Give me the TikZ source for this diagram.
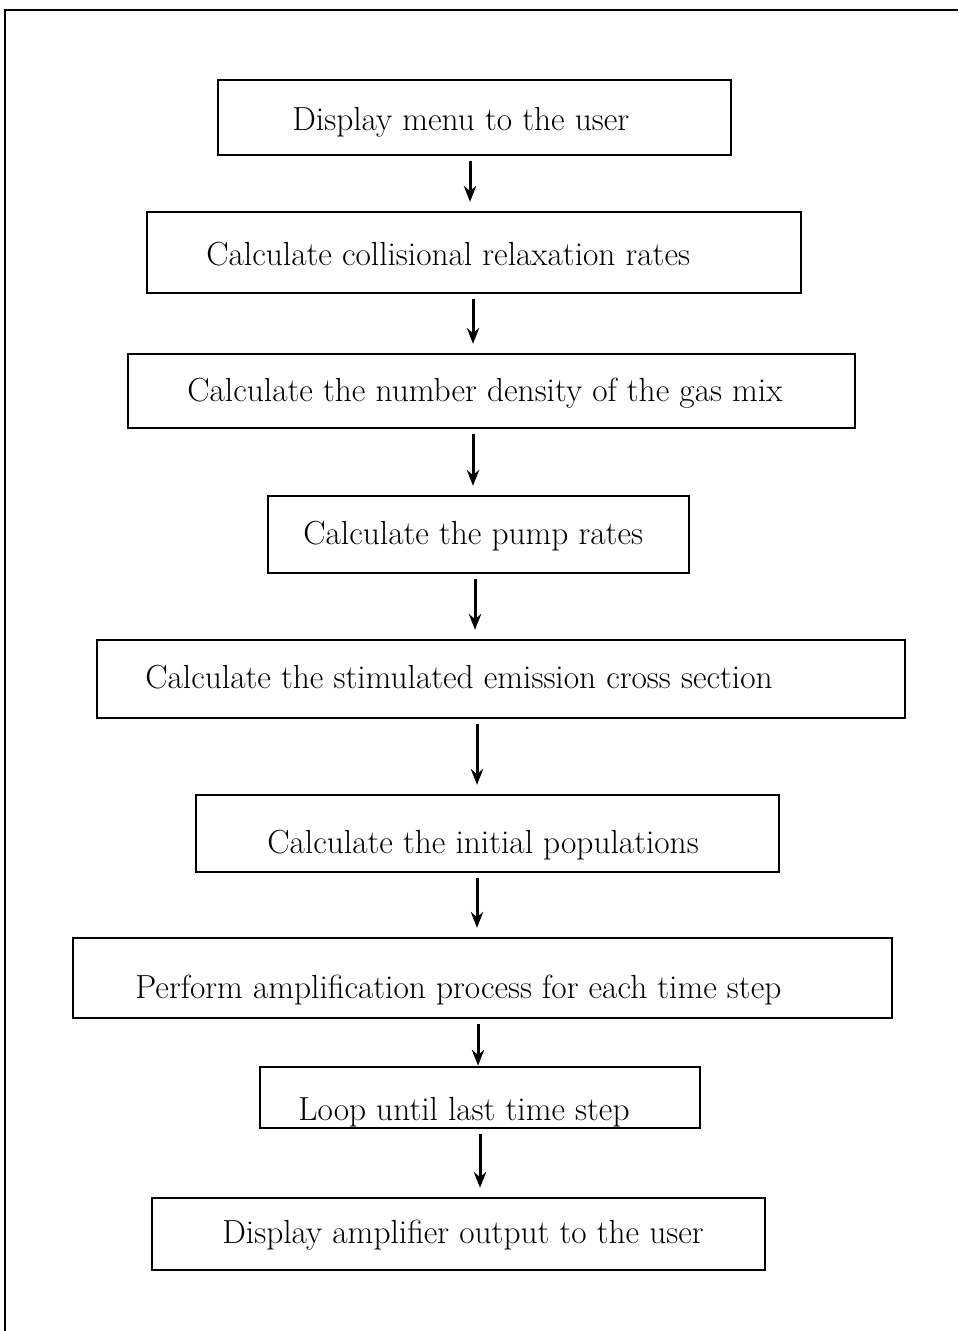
\documentclass[tikz,border=0pt]{standalone}
\usetikzlibrary{arrows.meta}
\begin{document}
\begin{tikzpicture}[x=0.02cm, y=-0.02cm,
  stepbox/.style={draw, line width=1.6pt, inner sep=0pt},
  steptext/.style={anchor=base west, inner sep=0pt, font=\fontsize{19}{22}\selectfont},
  arr/.style={line width=1.7pt, -{Stealth[length=9pt,width=7pt]}, shorten <=2.5pt, shorten >=5pt}]
\useasboundingbox (0,0) rectangle (958,1331);

% page frame (left and top edges)
\draw[line width=1.2pt] (5,1331) -- (5,10) -- (958,10);

% step boxes
\node[stepbox, minimum width=10.26cm, minimum height=1.50cm] (b1) at (474.5,117.5) {};
\node[stepbox, minimum width=13.08cm, minimum height=1.62cm] (b2) at (474,252.5) {};
\node[stepbox, minimum width=14.54cm, minimum height=1.48cm] (b3) at (491.5,391) {};
\node[stepbox, minimum width=8.42cm,  minimum height=1.54cm] (b4) at (478.5,534.5) {};
\node[stepbox, minimum width=16.16cm, minimum height=1.56cm] (b5) at (501,679) {};
\node[stepbox, minimum width=11.66cm, minimum height=1.54cm] (b6) at (487.5,833.5) {};
\node[stepbox, minimum width=16.38cm, minimum height=1.60cm] (b7) at (482.5,978) {};
\node[stepbox, minimum width=8.80cm,  minimum height=1.22cm] (b8) at (480,1097.5) {};
\node[stepbox, minimum width=12.26cm, minimum height=1.44cm] (b9) at (458.5,1234) {};

% step labels
\node[steptext] (t1) at (292,131) {Display menu to the user};
\node[steptext] (t2) at (206,265) {Calculate collisional relaxation rates};
\node[steptext] (t3) at (187,401) {Calculate the number density of the gas mix};
\node[steptext] (t4) at (303,544) {Calculate the pump rates};
\node[steptext] (t5) at (145,688) {Calculate the stimulated emission cross section};
\node[steptext] (t6) at (267,853) {Calculate the initial populations};
\node[steptext] (t7) at (135,998) {Perform amplification process for each time step};
\node[steptext] (t8) at (298,1120) {Loop until last time step};
\node[steptext] (t9) at (222,1243) {Display amplifier output to the user};

% horizontal positions of the flow arrows
\coordinate (c1) at (470,0);
\coordinate (c2) at (473,0);
\coordinate (c3) at (473,0);
\coordinate (c4) at (475,0);
\coordinate (c5) at (477,0);
\coordinate (c6) at (477,0);
\coordinate (c7) at (478,0);
\coordinate (c8) at (480,0);

% flow arrows
\draw[arr] (b1.south -| c1) -- (b2.north -| c1);
\draw[arr] (b2.south -| c2) -- (b3.north -| c2);
\draw[arr] (b3.south -| c3) -- (b4.north -| c3);
\draw[arr] (b4.south -| c4) -- (b5.north -| c4);
\draw[arr] (b5.south -| c5) -- (b6.north -| c5);
\draw[arr] (b6.south -| c6) -- (b7.north -| c6);
\draw[arr, shorten >=0pt] (b7.south -| c7) -- (b8.north -| c7);
\draw[arr] (b8.south -| c8) -- (b9.north -| c8);
\end{tikzpicture}
\end{document}
